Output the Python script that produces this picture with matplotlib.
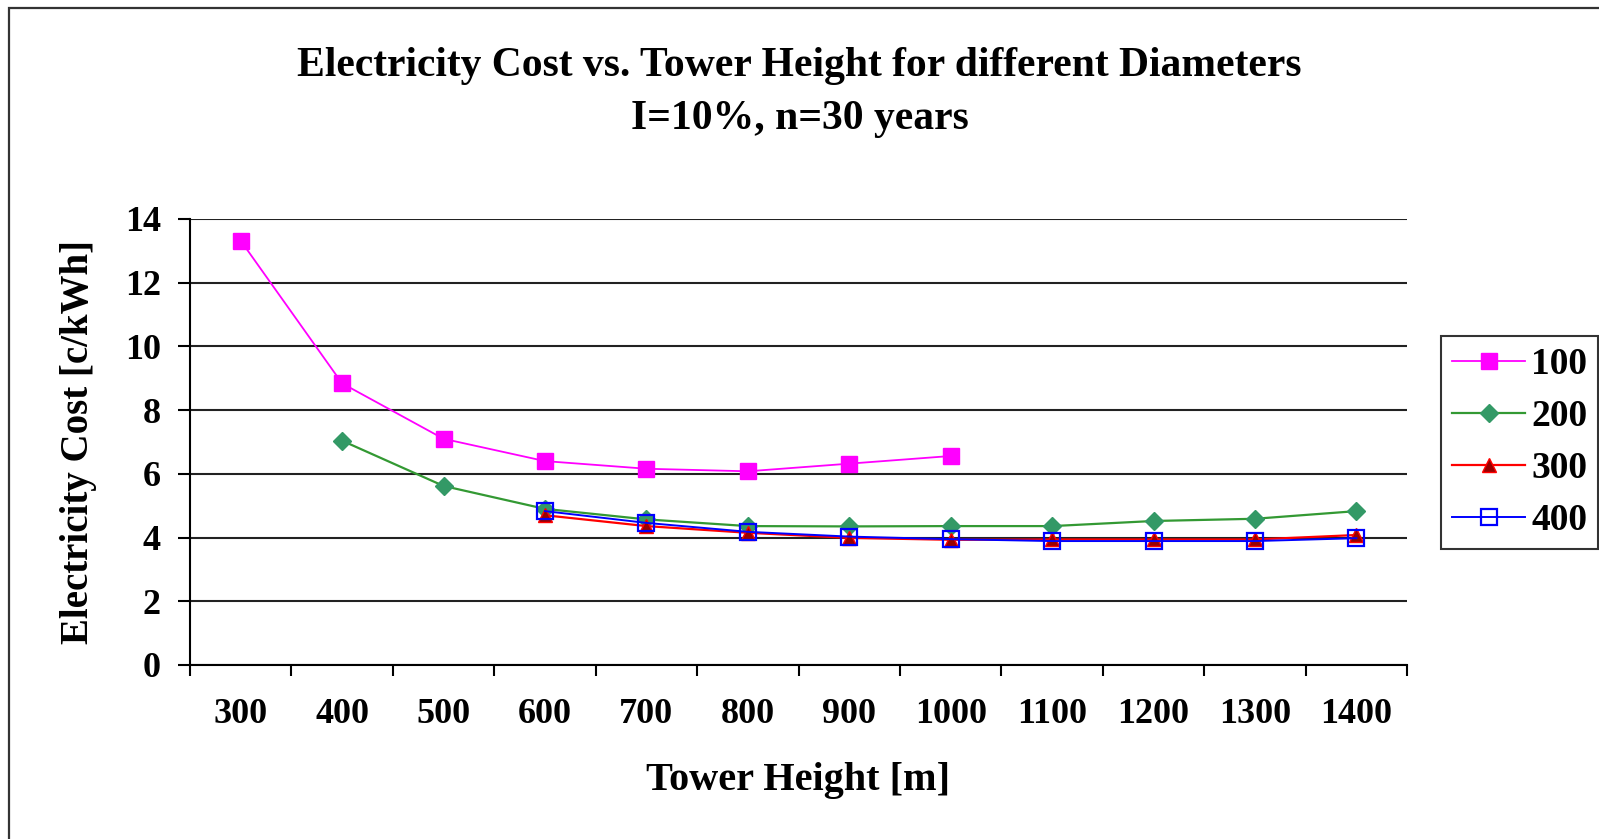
import numpy as np
import matplotlib
matplotlib.use("Agg")
import matplotlib.pyplot as plt
from matplotlib.patches import Rectangle

# --- Data ---
heights = ["300", "400", "500", "600", "700", "800", "900", "1000",
           "1100", "1200", "1300", "1400"]
nan = np.nan
cost_100 = [13.32, 8.84, 7.10, 6.40, 6.16, 6.08, 6.32, 6.56, nan, nan, nan, nan]
cost_200 = [nan, 7.04, 5.62, 4.90, 4.57, 4.36, 4.35, 4.36, 4.36, 4.52, 4.59, 4.83]
cost_300 = [nan, nan, nan, 4.70, 4.36, 4.15, 3.99, 3.93, 3.94, 3.94, 3.94, 4.08]
cost_400 = [nan, nan, nan, 4.83, 4.46, 4.18, 4.03, 3.95, 3.89, 3.89, 3.89, 3.98]
diameters = ["100", "200", "300", "400"]

plt.rcParams['font.family'] = ['Liberation Serif', 'DejaVu Serif']
plt.rcParams['font.weight'] = 'bold'

fig = plt.figure(figsize=(15.99, 8.39), dpi=100)
ax = fig.add_axes([0.1188, 0.2074, 0.7612, 0.5316])

x = np.arange(len(heights))

# series styles (Excel default-ish)
ax.plot(x, cost_100, color='#FF00FF', lw=1.3, marker='s', ms=11.5,
        mfc='#FF00FF', mec='#FF00FF', label=diameters[0])
ax.plot(x, cost_200, color='#339933', lw=1.6, marker='D', ms=9.5,
        mfc='#339966', mec='#339966', label=diameters[1])
ax.plot(x, cost_300, color='#FF0000', lw=1.6, marker='^', ms=10,
        mfc='#990000', mec='#FF0000', mew=1.0, label=diameters[2])
ax.plot(x, cost_400, color='#0000FF', lw=1.4, marker='s', ms=11,
        mfc='none', mec='#0000FF', mew=1.6, label=diameters[3])

# --- Axes styling ---
ax.set_xlim(-0.5, len(heights) - 0.5)
ax.set_ylim(0, 14)
ax.set_yticks(np.arange(0, 15, 2))
ax.set_xticks(x)
ax.set_xticklabels(heights)
ax.set_xticks(np.arange(-0.5, len(heights), 1.0), minor=True)
ax.tick_params(axis='x', which='major', length=0, pad=24, labelsize=26)
ax.tick_params(axis='x', which='minor', length=8, width=1.5, direction='out')
ax.tick_params(axis='y', length=9, width=1.5, direction='out', labelsize=26, pad=12)
for lab in ax.get_xticklabels() + ax.get_yticklabels():
    lab.set_fontweight('bold')

ax.grid(axis='y', color='#222222', lw=1.5)
ax.set_axisbelow(True)
for side in ['top', 'right']:
    ax.spines[side].set_visible(False)
for side in ['left', 'bottom']:
    ax.spines[side].set_linewidth(1.5)

ax.set_xlabel('Tower Height [m]', fontsize=29, fontweight='bold', labelpad=22)
ax.set_ylabel('Electricity Cost [c/kWh]', fontsize=28, fontweight='bold', labelpad=20)

fig.text(0.5, 0.921, 'Electricity Cost vs. Tower Height for different Diameters',
         ha='center', va='center', fontsize=30, fontweight='bold')
fig.text(0.5, 0.858, 'I=10%, n=30 years', ha='center', va='center',
         fontsize=30, fontweight='bold')

# --- Legend ---
leg = ax.legend(loc='upper left', bbox_to_anchor=(1441 / 1599, 1 - 336 / 839),
                bbox_transform=fig.transFigure, fontsize=27, frameon=True,
                fancybox=False, edgecolor='black', handlelength=1.95,
                handletextpad=0.15, labelspacing=0.45, borderpad=0.3,
                borderaxespad=0)
leg.get_frame().set_linewidth(1.5)
for t in leg.get_texts():
    t.set_fontweight('bold')

# outer chart-area frame (runs off the right and bottom of the picture)
fig.patches.append(Rectangle((9 / 1599, -0.05), 1.2, 1 - 8 / 839 + 0.05,
                             transform=fig.transFigure, fill=False,
                             edgecolor='#333333', lw=1.6))

plt.savefig('out.png', dpi=100)
